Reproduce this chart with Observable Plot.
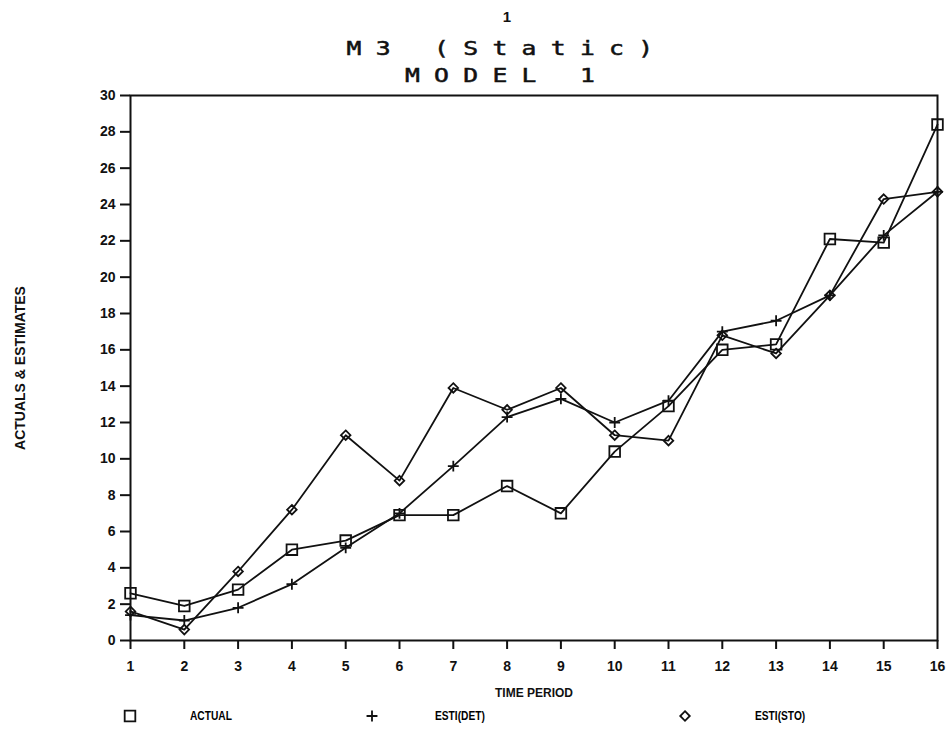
<!DOCTYPE html>
<html>
<head>
<meta charset="utf-8">
<script src="https://cdn.jsdelivr.net/npm/d3@7"></script>
<script src="https://cdn.jsdelivr.net/npm/@observablehq/plot@0.6"></script>
<style>
  html, body { margin: 0; padding: 0; background: #fff; }
  #page { position: relative; width: 951px; height: 743px; overflow: hidden; }
  .plotter { position: absolute; left: 0; width: 1014px; text-align: center;
             font-family: "DejaVu Sans Mono", monospace; color: #111; white-space: pre; }
  .title { font-size: 19px; letter-spacing: 11px; transform: scaleX(1.3); transform-origin: 507px 0;
           -webkit-text-stroke: 0.5px #111; }
  #num { top: 8px; font-family: "Liberation Sans", sans-serif; font-weight: bold; font-size: 15px; }
  #t1 { top: 37px; }
  #t2 { top: 64px; }
  #chart { position: absolute; left: 0; top: 85px; }
  #legend { position: absolute; left: 0; top: 705px; width: 951px; height: 22px;
            font-family: "Liberation Sans", sans-serif; font-weight: bold; font-size: 12px; }
  #legend .item { position: absolute; top: 0; height: 22px; }
  #legend svg { position: absolute; left: 0; top: 0; }
  #legend span { position: absolute; top: 4px; white-space: pre; transform: scaleX(0.85); transform-origin: 0 0; }
</style>
</head>
<body>
<div id="page">
  <div class="plotter" id="num">1</div>
  <div class="plotter title" id="t1">M3 (Static)</div>
  <div class="plotter title" id="t2">MODEL 1</div>
  <div id="chart"></div>
  <div id="legend"></div>
</div>
<script>
// Time periods and the three series plotted against them
const periods = [1, 2, 3, 4, 5, 6, 7, 8, 9, 10, 11, 12, 13, 14, 15, 16];
const actual  = [2.6, 1.9, 2.8, 5.0, 5.5, 6.9, 6.9, 8.5, 7.0, 10.4, 12.9, 16.0, 16.3, 22.1, 21.9, 28.4];
const estiDet = [1.4, 1.1, 1.8, 3.1, 5.1, 7.0, 9.6, 12.3, 13.3, 12.0, 13.2, 17.0, 17.6, 19.0, 22.3, 24.7];
const estiSto = [1.6, 0.6, 3.8, 7.2, 11.3, 8.8, 13.9, 12.7, 13.9, 11.3, 11.0, 16.8, 15.8, 19.0, 24.3, 24.7];

const seriesNames = ["ACTUAL", "ESTI(DET)", "ESTI(STO)"];
const seriesSymbols = ["square", "plus", "diamond2"];
const seriesValues = [actual, estiDet, estiSto];

const xTicks = d3.range(1, 17);
const yTicks = d3.range(0, 31, 2);

// Long-format table built from the arrays above
const rows = seriesNames.flatMap((name, i) =>
  periods.map((p, j) => ({series: name, symbol: seriesSymbols[i], period: p, value: seriesValues[i][j]}))
);

// Marker radius for each symbol so the glyphs read at similar sizes
const markerR = {square: 6, plus: 3.6, diamond2: 4.3};

const chart = Plot.plot({
  width: 951,
  height: 617,
  marginLeft: 130,
  marginRight: 14,
  marginTop: 10,
  marginBottom: 62,
  style: {fontFamily: "Liberation Sans, sans-serif", fontWeight: "bold", fontSize: "14px", color: "#111", background: "transparent"},
  x: {domain: [1, 16], ticks: xTicks, label: null},
  y: {domain: [0, 30], ticks: yTicks, label: null},
  marks: [
    Plot.frame({stroke: "#111", strokeWidth: 2}),
    Plot.axisX({ticks: xTicks, tickSize: 9, tickPadding: 12, tickFormat: d3.format("d"), strokeWidth: 2, label: null}),
    Plot.axisY({ticks: yTicks, tickSize: 10, tickPadding: 5, tickFormat: d3.format("d"), strokeWidth: 2, label: null}),
    Plot.text(["TIME PERIOD"], {frameAnchor: "bottom", textAnchor: "middle", dy: 56, fontFamily: "Liberation Sans, sans-serif", fontSize: 12, fontWeight: "bold", fill: "#111", ariaLabel: "x-title"}),
    Plot.text(["ACTUALS & ESTIMATES"], {frameAnchor: "left", textAnchor: "middle", dx: -110, rotate: -90, fontFamily: "Liberation Sans, sans-serif", fontSize: 14, fontWeight: "bold", fill: "#111", ariaLabel: "y-title"}),
    Plot.line(rows, {x: "period", y: "value", z: "series", stroke: "#111", strokeWidth: 1.8, curve: "linear"}),
    ...seriesSymbols.map((s, i) =>
      Plot.dot(rows.filter(d => d.series === seriesNames[i]), {x: "period", y: "value", symbol: () => s, r: markerR[s], stroke: "#111", strokeWidth: 1.8, fill: "none"})
    )
  ]
});
d3.select(chart).selectAll('g[aria-label="y-title"] text').attr("letter-spacing", "3.5px");
d3.select(chart).selectAll('g[aria-label="x-title"] text').attr("letter-spacing", "0.5px");
document.getElementById("chart").appendChild(chart);

// Legend row under the axis title
const legendX = [130, 372, 685];
const legendGap = [60, 63, 70];
const legend = document.getElementById("legend");
const symbolShapes = {square: d3.symbolSquare, plus: d3.symbolPlus, diamond2: d3.symbolDiamond2};
seriesNames.forEach((name, i) => {
  const item = document.createElement("div");
  item.className = "item";
  item.style.left = (legendX[i] - 8) + "px";
  const svg = d3.create("svg").attr("width", 16).attr("height", 22);
  const r = markerR[seriesSymbols[i]];
  svg.append("path")
    .attr("transform", "translate(8,11)")
    .attr("d", d3.symbol(symbolShapes[seriesSymbols[i]], Math.PI * r * r)())
    .attr("fill", "none").attr("stroke", "#111").attr("stroke-width", 1.8);
  item.appendChild(svg.node());
  const label = document.createElement("span");
  label.textContent = name;
  label.style.left = (8 + legendGap[i]) + "px";
  item.appendChild(label);
  legend.appendChild(item);
});
</script>
</body>
</html>
